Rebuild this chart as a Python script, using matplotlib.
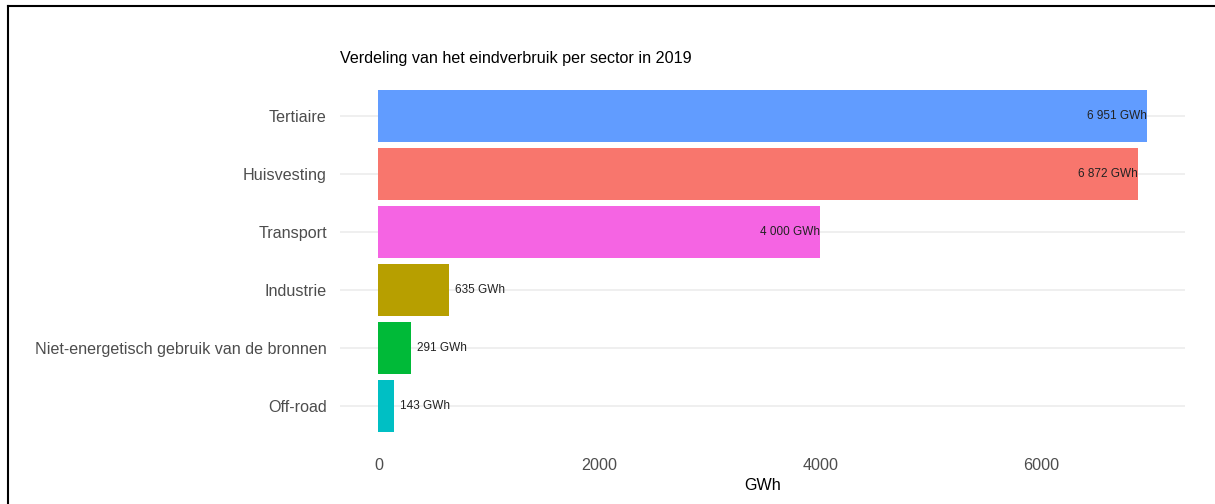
import matplotlib
matplotlib.use("Agg")
import matplotlib.pyplot as plt
from matplotlib.lines import Line2D

plt.rcParams['font.family'] = ['Liberation Sans', 'DejaVu Sans']

# Final energy consumption per sector, 2019 (GWh)
sectors = ["Tertiaire", "Huisvesting", "Transport", "Industrie",
           "Niet-energetisch gebruik van de bronnen", "Off-road"]
values = [6951, 6872, 4000, 635, 291, 143]
colors = ["#619CFF", "#F8766D", "#F564E3", "#B79F00", "#00BA38", "#00BFC4"]
xticks = [0, 2000, 4000, 6000]

W, H = 1215, 504
fig = plt.figure(figsize=(W / 100, H / 100), dpi=100)
fig.patch.set_facecolor("white")

left, right, top, bottom = 340, 1185, 81, 441
ax = fig.add_axes([left / W, 1 - bottom / H, (right - left) / W, (bottom - top) / H])

n = len(sectors)
ypos = [n - i for i in range(n)]
ax.barh(ypos, values, height=0.9, color=colors, zorder=2)

for y, v in zip(ypos, values):
    label = f"{v:,}".replace(",", " ") + " GWh"
    if v > 1000:
        ax.text(v, y, label, ha="right", va="center", fontsize=8.5,
                color="#222222", zorder=3)
    else:
        ax.annotate(label, (v, y), xytext=(4.5, 0), textcoords="offset points",
                    ha="left", va="center", fontsize=8.5, color="#222222",
                    zorder=3)

vmax = max(values)
ax.set_xlim(-0.05 * vmax, 1.05 * vmax)
ax.set_ylim(0.4, n + 0.6)
ax.set_yticks(ypos)
ax.set_yticklabels(sectors)
ax.set_xticks(xticks)
ax.set_xticklabels([str(t) for t in xticks])

ax.grid(axis="y", color="#EBEBEB", linewidth=1.1, zorder=0)
ax.grid(axis="x", visible=False)
for s in ax.spines.values():
    s.set_visible(False)
ax.tick_params(axis="both", length=0, labelsize=11.6, colors="#4D4D4D")
ax.tick_params(axis="y", pad=9.5)
ax.tick_params(axis="x", pad=12)

ax.set_xlabel("GWh", fontsize=11.6, color="black", labelpad=4)
fig.text(left / W, 1 - 58 / H, "Verdeling van het eindverbruik per sector in 2019",
         ha="left", va="center", fontsize=11.6, color="black")

# Frame lines along the top and left edges
fig.add_artist(Line2D([8 / W, 1], [1 - 6 / H, 1 - 6 / H], color="black",
                      linewidth=1.5, transform=fig.transFigure))
fig.add_artist(Line2D([8 / W, 8 / W], [0, 1 - 6 / H], color="black",
                      linewidth=1.5, transform=fig.transFigure))

fig.savefig("out.png", dpi=100, facecolor="white")
